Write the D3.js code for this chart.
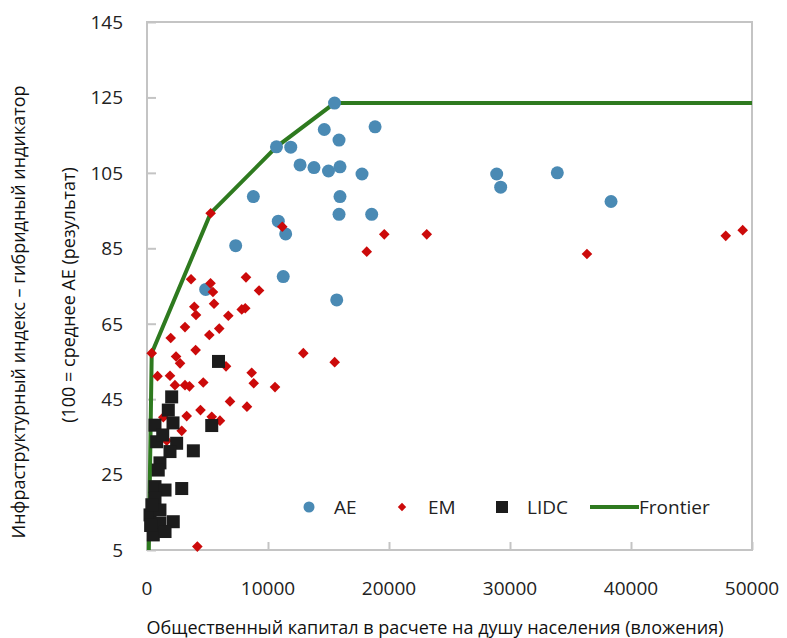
<!DOCTYPE html>
<html>
<head>
<meta charset="utf-8">
<script src="https://cdn.jsdelivr.net/npm/d3@7"></script>
<style>
  body { margin: 0; background: #fff; }
  svg { display: block; font-family: "Open Sans", sans-serif; }
</style>
</head>
<body>
<div id="chart"></div>
<script>
const width = 787, height = 638
const margin = { top: 22, right: 35, bottom: 88, left: 147 }

// AE: advanced economies [capital per capita, index]
const aeData = [
  [15500, 123.5], [14650, 116.5], [18850, 117.2], [15870, 113.7], [10700, 111.9],
  [11880, 111.8], [12650, 107.1], [13800, 106.4], [15000, 105.5], [15950, 106.6],
  [17770, 104.7], [8790, 98.7], [15950, 98.7], [15870, 94.0], [18570, 94.0],
  [10850, 92.2], [11460, 88.8], [7330, 85.7], [11260, 77.5], [15680, 71.3],
  [4850, 74.1], [28900, 104.7], [29230, 101.2], [33910, 105.0], [38350, 97.4]
]

// EM: emerging markets
const emData = [
  [5260, 94.3], [11180, 90.7], [19610, 88.7], [18160, 84.1], [23120, 88.7],
  [36360, 83.5], [47830, 88.3], [49230, 89.8], [3640, 76.8], [5250, 75.7],
  [5450, 73.4], [8180, 77.3], [9260, 73.8], [5540, 70.3], [3910, 69.5],
  [4050, 67.3], [6720, 67.1], [7830, 68.8], [8120, 69.1], [3140, 64.1],
  [5970, 63.7], [5150, 62.0], [1960, 61.2], [4020, 58.0], [390, 57.2],
  [2400, 56.3], [2730, 54.5], [12920, 57.2], [15510, 54.8], [6530, 53.7],
  [870, 51.1], [1900, 51.2], [8650, 52.0], [8820, 49.2], [2310, 48.7],
  [3140, 48.7], [3510, 48.4], [4650, 49.4], [10580, 48.2], [6860, 44.4],
  [8260, 43.0], [4420, 42.1], [3280, 40.5], [5350, 40.3], [6030, 39.3],
  [2870, 36.6], [1350, 40.2], [1630, 34.0], [4160, 5.9]
]

// LIDC: low-income developing countries
const lidcData = [
  [5910, 55.0], [2040, 45.6], [1760, 42.1], [660, 38.1], [2150, 38.7],
  [5350, 38.0], [800, 33.7], [2450, 33.3], [1900, 31.1], [3830, 31.3],
  [1070, 28.1], [930, 26.2], [660, 21.8], [1490, 20.9], [2870, 21.3],
  [660, 18.7], [250, 14.3], [1070, 15.6], [2170, 12.5], [1070, 12.1],
  [520, 9.0], [1490, 9.9], [400, 17.0], [300, 11.5], [1300, 35.5]
]

// efficiency frontier
const frontier = [
  [150, 5], [390, 57.2], [5260, 94.3], [10700, 111.9], [15500, 123.5], [50000, 123.5]
]

const xTicks = [0, 10000, 20000, 30000, 40000, 50000]
const yTicks = [5, 25, 45, 65, 85, 105, 125, 145]

const xTitle = "Общественный капитал в расчете на душу населения (вложения)"
const yTitle1 = "Инфраструктурный индекс – гибридный индикатор"
const yTitle2 = "(100 = среднее AE (результат)"

const colors = { AE: "#4a8ab4", EM: "#cc0a0a", LIDC: "#1c1c1c", Frontier: "#2e7a1f" }
const axisColor = "#c4c4c4"

const svg = d3.select("#chart").append("svg")
  .attr("width", width)
  .attr("height", height)

const x = d3.scaleLinear()
  .domain([0, 50000])
  .range([margin.left, width - margin.right])

const y = d3.scaleLinear()
  .domain([5, 145])
  .range([height - margin.bottom, margin.top])

// plot frame
svg.append("rect")
  .attr("x", x(0))
  .attr("y", y(145))
  .attr("width", x(50000) - x(0))
  .attr("height", y(5) - y(145))
  .attr("fill", "none")
  .attr("stroke", axisColor)
  .attr("stroke-width", 2)

// y axis
const yAxis = svg.append("g")
  .attr("transform", `translate(${x(0)},0)`)
  .call(d3.axisRight(y).tickValues(yTicks).tickSize(9).tickFormat(""))
yAxis.select(".domain").remove()
yAxis.selectAll("line").attr("stroke", axisColor).attr("stroke-width", 2)

svg.append("g")
  .selectAll("text")
  .data(yTicks)
  .join("text")
  .attr("x", x(0) - 24)
  .attr("y", d => y(d))
  .attr("dy", "0.36em")
  .attr("text-anchor", "end")
  .attr("font-size", 19)
  .attr("fill", "#222")
  .text(d => d)

// x axis
const xAxis = svg.append("g")
  .attr("transform", `translate(0,${y(5)})`)
  .call(d3.axisTop(x).tickValues(xTicks).tickSize(8).tickFormat(""))
xAxis.select(".domain").remove()
xAxis.selectAll("line").attr("stroke", axisColor).attr("stroke-width", 2)

svg.append("g")
  .selectAll("text")
  .data(xTicks)
  .join("text")
  .attr("x", d => x(d))
  .attr("y", y(5) + 45)
  .attr("text-anchor", "middle")
  .attr("font-size", 19)
  .attr("fill", "#222")
  .text(d => d)

// titles
svg.append("text")
  .attr("x", 435)
  .attr("y", 634)
  .attr("text-anchor", "middle")
  .attr("font-size", 18)
  .attr("fill", "#111")
  .text(xTitle)

svg.append("text")
  .attr("transform", `translate(25,312) rotate(-90)`)
  .attr("text-anchor", "middle")
  .attr("font-size", 18)
  .attr("fill", "#111")
  .text(yTitle1)

svg.append("text")
  .attr("transform", `translate(75,295) rotate(-90)`)
  .attr("text-anchor", "middle")
  .attr("font-size", 18)
  .attr("fill", "#111")
  .text(yTitle2)

// frontier line
const line = d3.line().x(d => x(d[0])).y(d => y(d[1]))
svg.append("path")
  .datum(frontier)
  .attr("d", line)
  .attr("fill", "none")
  .attr("stroke", colors.Frontier)
  .attr("stroke-width", 4)

// points
svg.append("g")
  .selectAll("circle")
  .data(aeData)
  .join("circle")
  .attr("cx", d => x(d[0]))
  .attr("cy", d => y(d[1]))
  .attr("r", 6.5)
  .attr("fill", colors.AE)

const diamond = d3.symbol().type(d3.symbolDiamond2).size(72)
svg.append("g")
  .selectAll("path")
  .data(emData)
  .join("path")
  .attr("transform", d => `translate(${x(d[0])},${y(d[1])})`)
  .attr("d", diamond)
  .attr("fill", colors.EM)

svg.append("g")
  .selectAll("rect")
  .data(lidcData)
  .join("rect")
  .attr("x", d => x(d[0]) - 6.5)
  .attr("y", d => y(d[1]) - 6.5)
  .attr("width", 13)
  .attr("height", 13)
  .attr("fill", colors.LIDC)

// legend
const legend = svg.append("g").attr("transform", "translate(0,507)")
legend.append("circle").attr("cx", 309).attr("cy", 0).attr("r", 5.5).attr("fill", colors.AE)
legend.append("path").attr("transform", "translate(402,0)")
  .attr("d", d3.symbol().type(d3.symbolDiamond2).size(45)).attr("fill", colors.EM)
legend.append("rect").attr("x", 496).attr("y", -6).attr("width", 12).attr("height", 12).attr("fill", colors.LIDC)
legend.append("line").attr("x1", 590).attr("x2", 639).attr("y1", 0).attr("y2", 0)
  .attr("stroke", colors.Frontier).attr("stroke-width", 4)

const legendText = [["AE", 334], ["EM", 428], ["LIDC", 527], ["Frontier", 639]]
legend.selectAll("text.lbl")
  .data(legendText)
  .join("text")
  .attr("class", "lbl")
  .attr("x", d => d[1])
  .attr("y", 0)
  .attr("dy", "0.36em")
  .attr("font-size", 19)
  .attr("fill", "#222")
  .text(d => d[0])
</script>
</body>
</html>
